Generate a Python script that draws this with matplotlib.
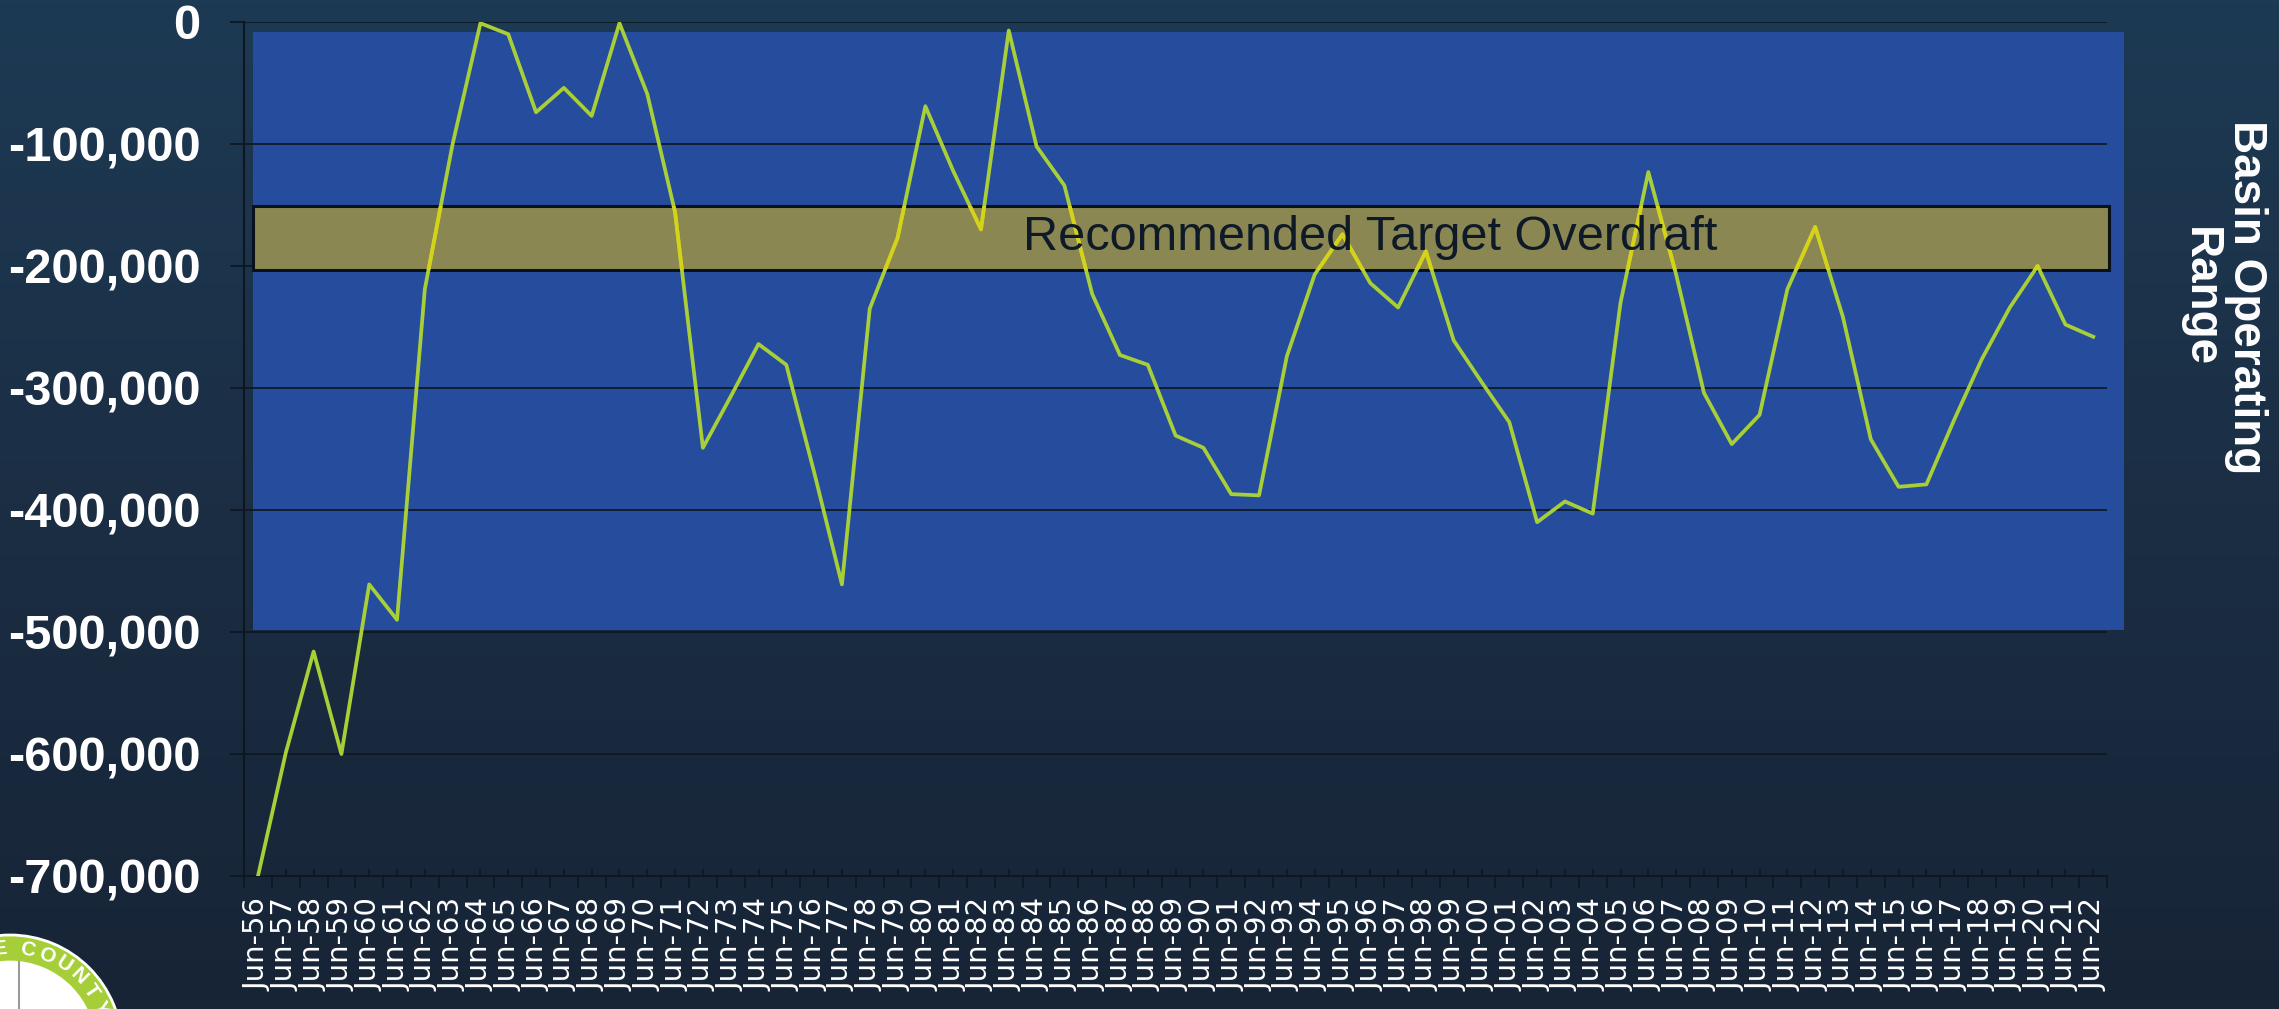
import matplotlib
matplotlib.use("Agg")
import matplotlib.pyplot as plt
import numpy as np
from matplotlib.colors import LinearSegmentedColormap
from matplotlib.patches import Rectangle, Circle, Wedge
from matplotlib.ticker import FuncFormatter

# cumulative overdraft, acre-feet
years = [f"Jun-{y % 100:02d}" for y in range(1956, 2023)]
storage = [
    -700000, -599000, -516000, -600000, -461000, -490000, -219000, -100000,
    -1000, -10000, -74000, -54000, -77000, -1000, -59000, -156000,
    -349000, -307000, -264000, -281000, -369000, -461000, -235000, -177000,
    -69000, -122000, -170000, -7000, -102000, -134000, -223000, -273000,
    -281000, -339000, -349000, -387000, -388000, -274000, -207000, -174000,
    -214000, -234000, -188000, -261000, -295000, -328000, -410000, -393000,
    -403000, -230000, -123000, -207000, -304000, -346000, -322000, -219000,
    -168000, -242000, -342000, -381000, -379000, -326000, -276000, -234000,
    -200000, -248000, -258000,
]
yticks = [0, -100000, -200000, -300000, -400000, -500000, -600000, -700000]

operating_range = (-8600, -498400)
target_range = (-151000, -203000)
band_label = "Recommended Target Overdraft"
side_label = "Basin Operating\nRange"
seal_letters = "E COUNTY"

plt.rcParams["font.family"] = ["Liberation Sans", "DejaVu Sans"]

fig = plt.figure(figsize=(22.79, 10.09), dpi=100)

# slide background
bg = fig.add_axes([0, 0, 1, 1], zorder=-10)
grad = np.linspace(0, 1, 256).reshape(-1, 1)
cmap = LinearSegmentedColormap.from_list("bg", ["#1d3a54", "#1b2e44", "#172436"])
bg.imshow(grad, aspect="auto", cmap=cmap, extent=[0, 1, 0, 1], origin="upper")
bg.axis("off")

ax = fig.add_axes([0.1071, 0.1318, 0.8175, 0.8464])
ax.set_facecolor("none")
x = np.arange(len(years))
ax.set_xlim(-0.5, len(years) - 0.5)
ax.set_ylim(-700000, 0)

zone = Rectangle((-0.18, operating_range[1]), len(years) + 0.27,
                 operating_range[0] - operating_range[1],
                 facecolor="#254c9d", edgecolor="none", zorder=0.2, clip_on=False)
ax.add_patch(zone)

ax.set_axisbelow(True)
ax.yaxis.grid(True, color="#0e1620", lw=1.2)

band = Rectangle((-0.18, target_range[1]), len(years) - 0.27,
                 target_range[0] - target_range[1],
                 facecolor="#8b8752", edgecolor="#0b1119", lw=2.2,
                 zorder=2, clip_on=False)
ax.add_patch(band)

ax.plot(x, storage, color="#a8cf38", lw=2.7, zorder=3)
inside, = ax.plot(x, storage, color="#d6d21a", lw=2.7, zorder=3.1)
inside.set_clip_path(band)

ax.text(40, -187000, band_label, ha="center", va="baseline",
        fontsize=35, color="#0e1a28", zorder=4)

ax.set_yticks(yticks)
ax.yaxis.set_major_formatter(FuncFormatter(lambda v, p: f"{int(round(v)):,}"))
ax.tick_params(axis="y", length=10, width=1.2, color="#0e1620", pad=21.5,
               labelsize=35.2, labelcolor="white")
for lbl in ax.get_yticklabels():
    lbl.set_fontweight("bold")

ax.set_xticks(x)
ax.set_xticklabels(years, rotation=90, fontsize=21, color="white",
                   family=["DejaVu Sans"])
ax.set_xticks(np.arange(-0.5, len(years)), minor=True)
ax.tick_params(axis="x", which="major", direction="in", length=5, width=1.2,
               color="#0e1620", pad=16)
ax.tick_params(axis="x", which="minor", direction="out", length=8.6, width=1.2,
               color="#0e1620")

for side in ["top", "right"]:
    ax.spines[side].set_visible(False)
for side in ["left", "bottom"]:
    ax.spines[side].set_color("#0e1620")
    ax.spines[side].set_linewidth(1.5)

fig.text(2223 / 2279, 1 - 297 / 1009, side_label, rotation=-90,
         ha="center", va="center", fontsize=33, fontweight="bold",
         color="white", linespacing=1.05, multialignment="center")

# county seal peeking in at the bottom-left corner
cx, cy = 0.10, -0.38
tr = fig.dpi_scale_trans
fig.add_artist(Circle((cx, cy), 1.12, facecolor="white", edgecolor="none",
                      transform=tr, zorder=5))
fig.add_artist(Wedge((cx, cy), 1.12, 0, 360, width=0.27, facecolor="#a6ce39",
                     edgecolor="white", lw=2, transform=tr, zorder=6))
fig.add_artist(plt.Line2D([0.19, 0.19], [-0.5, 0.47], color="#9a9a9a", lw=1.5,
                          transform=tr, zorder=6))
for k, ch in enumerate(seal_letters):
    ang = 96 - 8.5 * k if k < 2 else 79.5 - 11.3 * (k - 2)
    t = np.deg2rad(ang)
    fig.text(cx + 0.985 * np.cos(t), cy + 0.985 * np.sin(t), ch,
             rotation=ang - 90, ha="center", va="center", fontsize=15,
             fontweight="bold", color="white", transform=tr, zorder=7)

fig.savefig("out.png", dpi=100)
